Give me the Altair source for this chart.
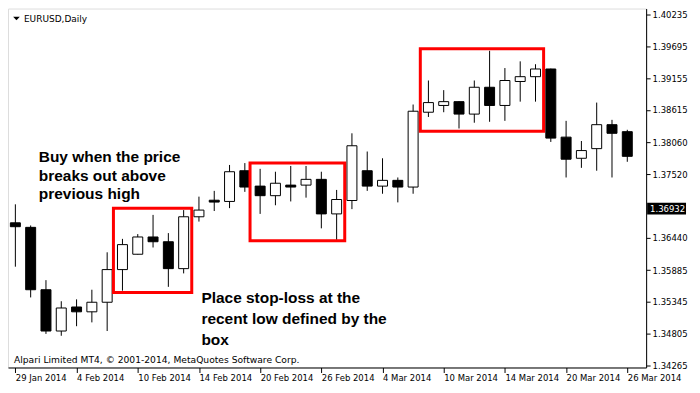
import json
import altair as alt
import pandas as pd

# ---- data ----
dates = ["29 Jan", "30 Jan", "31 Jan", "3 Feb", "4 Feb", "5 Feb", "6 Feb", "7 Feb",
         "10 Feb", "11 Feb", "12 Feb", "13 Feb", "14 Feb", "17 Feb", "18 Feb", "19 Feb",
         "20 Feb", "21 Feb", "24 Feb", "25 Feb", "26 Feb", "27 Feb", "28 Feb", "3 Mar",
         "4 Mar", "5 Mar", "6 Mar", "7 Mar", "10 Mar", "11 Mar", "12 Mar", "13 Mar",
         "14 Mar", "17 Mar", "18 Mar", "19 Mar", "20 Mar", "21 Mar", "24 Mar", "25 Mar", "26 Mar"]
opens = [1.36690, 1.36613, 1.35551, 1.34848, 1.35257, 1.35175, 1.35338, 1.35894,
         1.36155, 1.36449, 1.36368, 1.35910, 1.36793, 1.37075, 1.37054, 1.37577,
         1.37315, 1.37152, 1.37332, 1.37332, 1.37430, 1.36842, 1.37070, 1.37577,
         1.37315, 1.37413, 1.37299, 1.38573, 1.38688, 1.38753, 1.38541, 1.38998,
         1.38688, 1.39096, 1.39178, 1.39309, 1.38149, 1.37789, 1.37953, 1.38361, 1.38242]
highs = [1.37005, 1.36645, 1.35714, 1.35355, 1.35387, 1.35551, 1.36188, 1.36417,
         1.36498, 1.36825, 1.36515, 1.36907, 1.37136, 1.37234, 1.37675, 1.37707,
         1.37609, 1.37560, 1.37658, 1.37658, 1.37560, 1.37250, 1.38214, 1.37904,
         1.37789, 1.37462, 1.38704, 1.39113, 1.38949, 1.38760, 1.39113, 1.39619,
         1.39325, 1.39439, 1.39390, 1.39315, 1.38426, 1.38083, 1.38737, 1.38443, 1.38274]
lows = [1.35943, 1.35420, 1.34799, 1.34767, 1.34930, 1.34995, 1.34848, 1.35535,
        1.36150, 1.36270, 1.35600, 1.35829, 1.36711, 1.36891, 1.36940, 1.37217,
        1.36842, 1.36989, 1.37054, 1.37119, 1.36596, 1.36400, 1.36923, 1.37234,
        1.37185, 1.37038, 1.37185, 1.38492, 1.38573, 1.38296, 1.38394, 1.38410,
        1.38426, 1.38753, 1.38753, 1.38067, 1.37462, 1.37626, 1.37577, 1.37462, 1.37729]
closes = [1.36624, 1.35551, 1.34848, 1.35240, 1.35175, 1.35338, 1.35894, 1.36319,
          1.36449, 1.36368, 1.35910, 1.36793, 1.36907, 1.37043, 1.37560, 1.37299,
          1.37152, 1.37364, 1.37299, 1.37430, 1.36842, 1.37087, 1.38002, 1.37315,
          1.37413, 1.37299, 1.38590, 1.38737, 1.38753, 1.38541, 1.38998, 1.38688,
          1.39113, 1.39178, 1.39309, 1.38132, 1.37773, 1.37920, 1.38361, 1.38214, 1.37822]

tick_idx = [0, 4, 8, 12, 16, 20, 24, 28, 32, 36, 40]
tick_labels = ["29 Jan 2014", "4 Feb 2014", "10 Feb 2014", "14 Feb 2014", "20 Feb 2014",
               "26 Feb 2014", "4 Mar 2014", "10 Mar 2014", "14 Mar 2014", "20 Mar 2014",
               "26 Mar 2014"]
price_ticks = [1.34265, 1.34805, 1.35345, 1.35885, 1.36440, 1.37520,
               1.38060, 1.38615, 1.39155, 1.39695, 1.40235]
current_price = [1.36932]

box_start = [6.41, 15.34, 26.47]
box_end = [11.53, 21.53, 34.53]
box_top = [1.36940, 1.37707, 1.39652]
box_bottom = [1.35502, 1.36384, 1.38247]

note_buy = ["Buy when the price\nbreaks out above\nprevious high"]
note_buy_x = [1.53]
note_buy_y = [1.37732]
note_stop = ["Place stop-loss at the\nrecent low defined by the\nbox"]
note_stop_x = [12.16]
note_stop_y = [1.35322]

title_text = ["EURUSD,Daily"]
footer_text = ["Alpari Limited MT4, \u00a9 2001-2014, MetaQuotes Software Corp."]

# ---- chart ----
W, H = 640, 360
AXFONT = "DejaVu Sans"

df = pd.DataFrame({"i": list(range(len(dates))), "date": dates, "open": opens,
                   "high": highs, "low": lows, "close": closes})
boxes = pd.DataFrame({"x0": box_start, "x1": box_end, "y0": box_bottom, "y1": box_top})
buy_df = pd.DataFrame({"t": note_buy, "x": note_buy_x, "y": note_buy_y})
stop_df = pd.DataFrame({"t": note_stop, "x": note_stop_x, "y": note_stop_y})
price_df = pd.DataFrame({"p": current_price, "t": [f"{v:.5f}" for v in current_price]})

xscale = alt.Scale(domain=[-0.156, 40.906], nice=False, zero=False)
yscale = alt.Scale(domain=[1.34227, 1.40338], nice=False, zero=False)

label_expr = json.dumps(tick_labels) + "[round(datum.value / 4)]"
xaxis = alt.Axis(values=tick_idx, labelExpr=label_expr, labelAlign="left", tickSize=5,
                 labelPadding=1, grid=False, labelFlush=False, labelOverlap=False,
                 tickCount=50, domainColor="black", tickColor="black", labelColor="black",
                 labelFont=AXFONT, labelFontSize=8.5, title=None)
yaxis = alt.Axis(orient="right", values=price_ticks, format=".5f", tickSize=4,
                 labelPadding=2, grid=False, domainColor="black", tickColor="black",
                 labelColor="black", labelFont=AXFONT, labelFontSize=8.5, title=None,
                 labelOverlap=False, tickCount=50)

wicks = alt.Chart(df).mark_rule(color="black", strokeWidth=1, clip=True).encode(
    x=alt.X("i:Q", scale=xscale, axis=xaxis),
    y=alt.Y("low:Q", scale=yscale, axis=yaxis),
    y2="high:Q",
)

bodies = alt.Chart(df).mark_bar(size=10, stroke="black", strokeWidth=1, clip=True).encode(
    x="i:Q",
    y="open:Q",
    y2="close:Q",
    fill=alt.condition("datum.close >= datum.open", alt.value("white"), alt.value("black")),
)

rects = alt.Chart(boxes).mark_rect(fillOpacity=0, stroke="#ff0000", strokeWidth=3).encode(
    x="x0:Q", x2="x1:Q", y="y0:Q", y2="y1:Q"
)

note_style = dict(align="left", baseline="alphabetic", lineBreak="\n",
                  font="Liberation Sans", fontSize=15.5, fontWeight="bold", color="black")
buy_marks = alt.Chart(buy_df).mark_text(lineHeight=19, **note_style).encode(
    x="x:Q", y="y:Q", text="t:N")
stop_marks = alt.Chart(stop_df).mark_text(lineHeight=20.8, **note_style).encode(
    x="x:Q", y="y:Q", text="t:N")

title_mark = alt.Chart(pd.DataFrame({"t": title_text})).mark_text(
    align="left", baseline="middle", font=AXFONT, fontSize=9, color="black"
).encode(x=alt.value(16), y=alt.value(10), text="t:N")

tri = alt.Chart(pd.DataFrame({"t": title_text})).mark_point(
    shape="M-1,-0.5L1,-0.5L0,0.5Z", filled=True, color="black", size=45, opacity=1
).encode(x=alt.value(8.5), y=alt.value(10))

footer = alt.Chart(pd.DataFrame({"t": footer_text})).mark_text(
    align="left", baseline="middle", font=AXFONT, fontSize=9.2, color="black"
).encode(x=alt.value(6), y=alt.value(H - 8), text="t:N")

price_box = alt.Chart(price_df).mark_rule(color="black", strokeWidth=12, strokeCap="butt").encode(
    x=alt.value(W + 1), x2=alt.value(W + 40), y="p:Q"
)
price_txt = alt.Chart(price_df).mark_text(
    align="left", baseline="middle", font=AXFONT, fontSize=8.5, color="white"
).encode(x=alt.value(W + 4), y="p:Q", text="t:N")

chart = alt.layer(
    wicks, bodies, rects, buy_marks, stop_marks, title_mark, tri, footer, price_box, price_txt
).properties(width=W, height=H, padding=0).configure_view(
    stroke="black", strokeWidth=1
).configure(background="white")

chart.save("out.html", embed_options={"renderer": "svg", "actions": False})
